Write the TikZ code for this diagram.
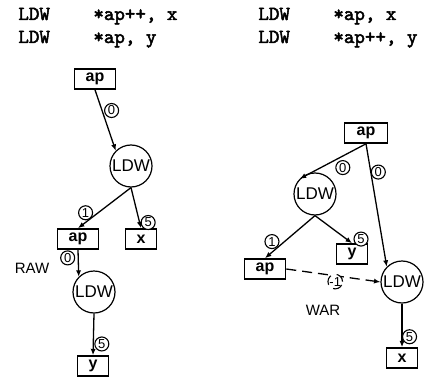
\documentclass[tikz,border=0pt]{standalone}
\usepackage{fontspec}
\setmainfont{Liberation Sans}
\setmonofont{Latin Modern Mono}[AutoFakeBold=2.5]
\usetikzlibrary{arrows.meta,positioning}

\begin{document}
\begin{tikzpicture}[
  x=0.5pt, y=-0.5pt,
  code/.style={inner sep=0pt, anchor=base west, font=\ttfamily\bfseries\fontsize{10}{11}\selectfont},
  box/.style={draw, line width=0.8pt, inner sep=0pt, minimum height=10pt, font=\bfseries\fontsize{8}{9}\selectfont},
  op/.style={draw, circle, line width=0.6pt, inner sep=0pt, minimum size=21pt, font=\fontsize{8.5}{9}\selectfont},
  arr/.style={-{Latex[length=3.2pt,width=2.6pt]}, line width=0.65pt},
  num/.style={draw, circle, fill=white, line width=0.55pt, inner sep=0pt, minimum size=7pt, font=\fontsize{6.5}{6.5}\selectfont},
  lab/.style={font=\fontsize{7.5}{8}\selectfont}
]
\useasboundingbox (0,0) rectangle (426,384);

\node[code] (lop1) at (18,20) {LDW};
\node[code] (larg1) at (93,20) {*ap++, x};
\node[code] (lop2) at (18,43) {LDW};
\node[code] (larg2) at (93,43) {*ap, y};
\node[code] (rop1) at (258,20) {LDW};
\node[code] (rarg1) at (333,20) {*ap, x};
\node[code] (rop2) at (258,43) {LDW};
\node[code] (rarg2) at (333,43) {*ap++, y};

\node[box, minimum width=20.5pt] (ap1) at (95,79) {ap};
\node[op] (ldw1) at (131,166) {LDW};
\node[box, minimum width=20.5pt] (ap2) at (78,239) {ap};
\node[box, minimum width=15.5pt] (xa) at (141,239) {x};
\node[op] (ldw2) at (94,292) {LDW};
\node[box, minimum width=15.5pt] (ya) at (93,366) {y};
\node[lab] (raw) at (32,268) {RAW};

\draw[arr] (ap1.south) -- node[num, pos=.34, right=1pt]{0} (ldw1.north west);
\draw[arr] (ldw1.south) -- node[num, pos=.62, left=2.5pt]{1} (ap2.north);
\draw[arr] (ldw1.south) -- node[num, pos=.86, right=0.5pt]{5} (xa.north);
\draw[arr] (ap2.south) -- node[num, pos=.3, left=1.5pt]{0} (ldw2.north west);
\draw[arr] (ldw2.south) -- node[num, pos=.73, right=0.5pt]{5} (ya.north);

\node[box, minimum width=21.5pt] (ap3) at (366,133) {ap};
\node[op] (ldw3) at (315,194) {LDW};
\node[op] (ldw4) at (402,282) {LDW};
\node[box, minimum width=20.5pt] (ap4) at (265,269) {ap};
\node[box, minimum width=15.5pt] (yb) at (352,254) {y};
\node[box, minimum width=15.5pt] (xb) at (402,358) {x};
\node[lab] (war) at (323,310) {WAR};

\draw[arr] (ap3.south) -- node[num, pos=.35, below=2pt]{0} (ldw3.north west);
\draw[arr] (ap3.south) -- node[num, pos=.23, right=0pt]{0} (ldw4.north west);
\draw[arr] (ldw3.south) -- node[num, pos=.61, left=2.5pt]{1} (ap4.north);
\draw[arr] (ldw3.south) -- node[num, pos=.85, right=3.5pt]{5} (yb.north);
\draw[arr] (ldw4.south) -- node[num, pos=.76, right=0pt]{5} (xb.north);
\draw[arr, dashed, dash pattern=on 5pt off 3pt] (ap4.east) -- node[num, pos=.52, below=-1pt]{-1} (ldw4.west);
\end{tikzpicture}
\end{document}
